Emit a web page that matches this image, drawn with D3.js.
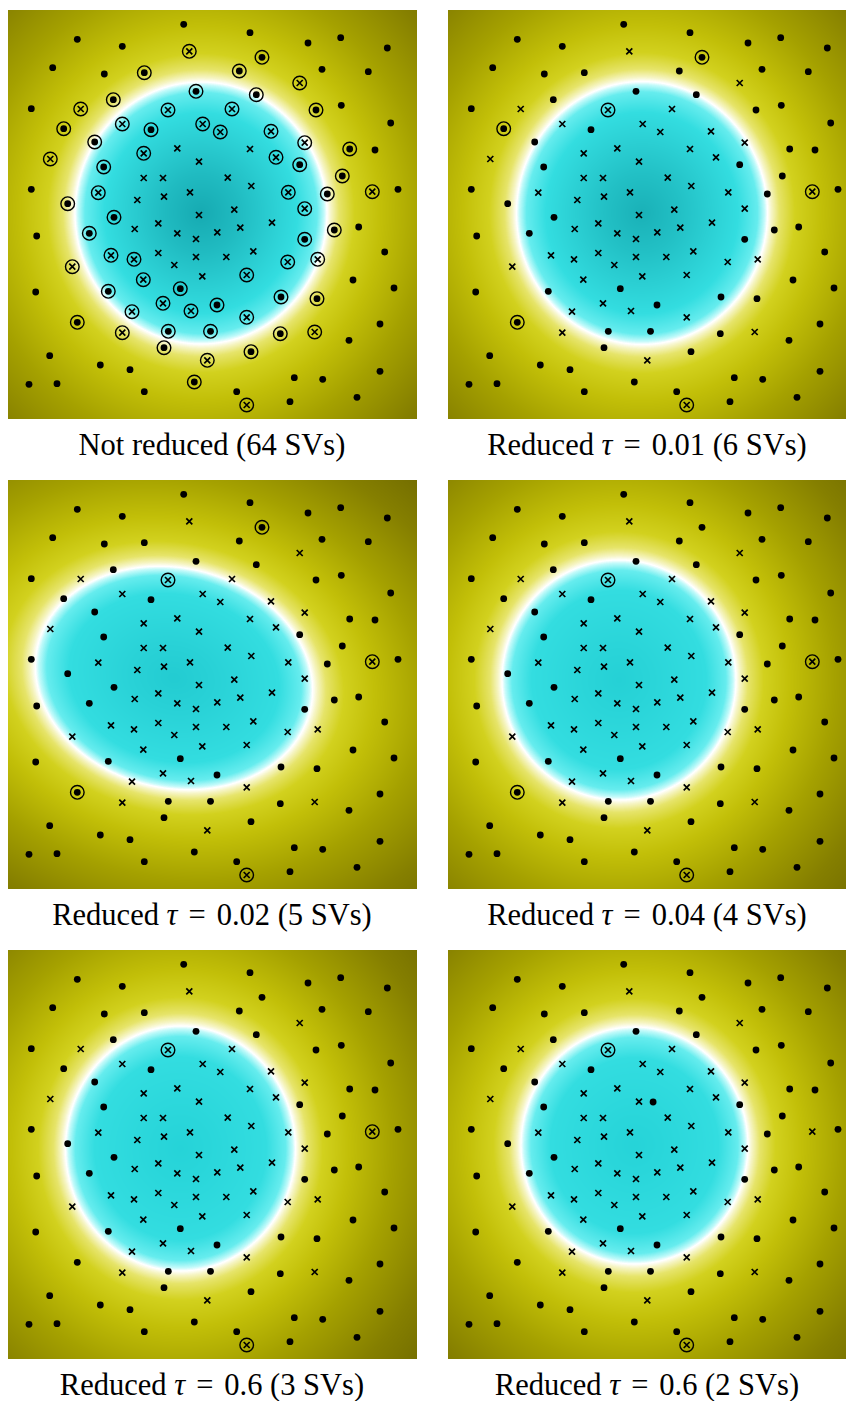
<!DOCTYPE html>
<html>
<head>
<meta charset="utf-8">
<script src="https://cdn.jsdelivr.net/npm/d3@7"></script>
<style>
  body { margin: 0; background: #fff; }
  svg { display: block; }
</style>
</head>
<body>
<script>
// Training samples: [x1, x2, label (+1 = dot, -1 = cross), support vector of the full model (1/0)]
// The first six rows are the vectors kept by the reduced models.
const samples = [
  [16.00, 10.00, -1, 1], [5.57, 11.87, 1, 1], [25.40, 4.73, 1, 1],
  [36.43, 18.17, -1, 1], [6.93, 31.23, 1, 1], [23.87, 39.50, -1, 1],
  [17.57, 1.43, 1, 0], [18.13, 4.13, -1, 1], [6.93, 2.93, 1, 0],
  [11.43, 3.63, 1, 0], [4.47, 5.77, 1, 0], [9.63, 6.40, 1, 0],
  [13.63, 6.27, 1, 1], [18.80, 8.13, 1, 1], [2.33, 9.87, 1, 0],
  [7.27, 9.90, -1, 1], [10.53, 8.97, 1, 1], [11.43, 11.40, -1, 1],
  [14.30, 11.97, 1, 1], [19.47, 11.40, -1, 1], [4.23, 14.90, -1, 1],
  [8.67, 13.20, 1, 1], [13.57, 14.33, -1, 1], [16.93, 13.83, -1, 0],
  [19.10, 15.17, -1, 0], [9.57, 15.70, 1, 1], [13.57, 16.80, -1, 0],
  [15.50, 16.80, -1, 0], [2.33, 17.93, 1, 0], [9.03, 18.27, -1, 1],
  [12.93, 19.00, -1, 0], [15.60, 18.67, -1, 0], [18.20, 18.23, -1, 0],
  [5.97, 19.37, 1, 1],
  [24.20, 2.27, 1, 0], [30.00, 3.30, 1, 0], [33.27, 2.77, 1, 0],
  [37.93, 3.80, 1, 0], [23.13, 6.10, 1, 1], [31.40, 5.93, 1, 0],
  [36.03, 6.17, 1, 0], [29.17, 7.30, -1, 1], [24.83, 8.47, 1, 1],
  [22.40, 9.90, -1, 1], [30.80, 10.00, 1, 1], [33.33, 9.53, 1, 0],
  [38.27, 11.30, 1, 0], [21.23, 12.20, -1, 1], [26.30, 12.13, -1, 1],
  [29.67, 13.27, -1, 1], [24.20, 13.90, -1, 0], [26.80, 14.73, -1, 1],
  [34.17, 13.90, 1, 1], [36.70, 14.00, 1, 0], [29.17, 15.47, 1, 1],
  [21.97, 16.77, -1, 0], [24.33, 17.60, -1, 0], [33.43, 16.60, 1, 1],
  [28.03, 18.23, -1, 1], [31.93, 18.40, 1, 1], [39.00, 17.93, 1, 0],
  [22.63, 19.97, -1, 0], [29.67, 19.87, -1, 1],
  [10.60, 20.73, 1, 1], [19.10, 20.50, -1, 0], [2.87, 22.60, 1, 0],
  [8.13, 22.33, 1, 1], [12.67, 21.90, -1, 0], [15.03, 21.33, -1, 0],
  [16.93, 22.33, -1, 0], [18.80, 22.90, -1, 0], [6.43, 25.67, -1, 1],
  [10.30, 24.53, -1, 1], [12.60, 24.93, -1, 1], [15.03, 24.30, -1, 0],
  [16.63, 25.50, -1, 0], [18.80, 24.70, -1, 0], [13.53, 26.97, -1, 1],
  [19.43, 26.63, -1, 0], [2.77, 28.20, 1, 0], [10.03, 28.13, 1, 1],
  [17.23, 27.87, 1, 1], [15.50, 29.33, -1, 1], [12.40, 30.17, -1, 1],
  [18.30, 30.10, -1, 1], [11.43, 32.27, -1, 1], [16.03, 32.13, 1, 1],
  [20.25, 32.13, 1, 1], [15.60, 33.77, 1, 1], [19.93, 35.03, -1, 1],
  [4.17, 34.57, 1, 0], [9.23, 35.50, 1, 0], [12.20, 35.97, 1, 0],
  [2.10, 37.43, 1, 0], [4.90, 37.37, 1, 0], [13.63, 38.17, 1, 0],
  [18.63, 37.20, 1, 1],
  [20.93, 22.23, -1, 0], [23.23, 21.77, -1, 0], [26.40, 21.27, -1, 0],
  [29.67, 22.93, 1, 1], [32.63, 22.00, 1, 1], [35.07, 21.70, 1, 0],
  [21.83, 24.70, -1, 0], [24.53, 24.13, -1, 0], [27.97, 25.20, -1, 1],
  [30.97, 24.93, -1, 1], [37.67, 24.20, 1, 0], [23.87, 26.50, -1, 1],
  [34.50, 27.00, 1, 0], [38.60, 27.80, 1, 0], [20.90, 29.50, 1, 1],
  [27.30, 28.70, 1, 1], [30.90, 28.87, 1, 1], [23.87, 30.73, -1, 1],
  [37.20, 31.40, 1, 0], [27.23, 32.37, 1, 1], [30.67, 32.20, -1, 1],
  [34.10, 33.03, 1, 0], [24.30, 34.17, 1, 1], [28.63, 36.77, 1, 0],
  [31.47, 36.93, 1, 0], [37.20, 36.13, 1, 0], [22.87, 38.17, 1, 0],
  [28.20, 39.17, 1, 0], [34.90, 38.73, 1, 0]
];

// One entry per model: reduction threshold (null = full model) and kept sample rows
const modelTau = [null, "0.01", "0.02", "0.04", "0.6", "0.6"];
const reducedSV = [null, [0, 1, 2, 3, 4, 5], [0, 2, 3, 4, 5], [0, 3, 4, 5], [0, 3, 5], [0, 5]];
// Additional points plotted only in a given panel: [x1, x2, label]
const extraPoints = [[], [], [], [], [], [[20.51, 15.20, 1]]];

// Zero level set of each decision function, as an ellipse (data units, angle in degrees)
const levelCx    = [19.30, 19.40, 16.60, 17.10, 17.25, 18.65];
const levelCy    = [20.30, 20.30, 19.80, 20.00, 19.85, 19.55];
const levelRx    = [12.60, 12.55, 14.00, 11.70, 11.50, 11.35];
const levelRy    = [13.10, 13.15, 11.00, 12.00, 12.25, 11.85];
const levelAngle = [0, 0, 13, 0, 0, 0];
const innerDeep  = ["#13a5ad", "#17acb3", "#20c9cf", "#22ced3", "#23d1d6", "#23d1d6"];

const W = 846, H = 1401, S = 409;
const colX = [8, 448], rowY = [10, 480, 950];

const svg = d3.select("body").append("svg").attr("width", W).attr("height", H);

const x = d3.scaleLinear().domain([0, 40.9]).range([0, S]);
const y = d3.scaleLinear().domain([0, 40.9]).range([0, S]);
const pxPerUnit = x(1) - x(0);

const outerColor = d3.scaleLinear()
  .domain([0, 4, 12, 28, 55, 100, 160, 240])
  .range(["#ffffff", "#f6f5c6", "#e6e46a", "#d2d11e", "#c2bf08", "#a5a100", "#857f00", "#666000"])
  .interpolate(d3.interpolateRgb).clamp(true);

function innerColor(deep) {
  return d3.scaleLinear()
    .domain([0, 3, 10, 30, 90, 140])
    .range(["#ffffff", "#c2fafa", "#66ecee", "#33dde0", d3.interpolateRgb("#33dde0", deep)(0.6), deep])
    .interpolate(d3.interpolateRgb).clamp(true);
}

function fieldImage(k) {
  const cv = document.createElement("canvas");
  cv.width = S; cv.height = S;
  const ctx = cv.getContext("2d");
  const img = ctx.createImageData(S, S);
  const th = levelAngle[k] * Math.PI / 180, c = Math.cos(th), s = Math.sin(th);
  const R = Math.sqrt(levelRx[k] * levelRy[k]) * pxPerUnit;
  // lookup tables over signed pixel distance from the boundary
  const step = 0.25;
  const lutOut = d3.range(0, 400, step).map(d => d3.rgb(outerColor(d)));
  const inner = innerColor(innerDeep[k]);
  const lutIn = d3.range(0, 400, step).map(d => d3.rgb(inner(d)));
  for (let j = 0; j < S; j++) {
    for (let i = 0; i < S; i++) {
      const dx = x.invert(i + 0.5) - levelCx[k];
      const dy = y.invert(j + 0.5) - levelCy[k];
      const u = dx * c + dy * s, v = -dx * s + dy * c;
      const r = Math.sqrt((u / levelRx[k]) ** 2 + (v / levelRy[k]) ** 2);
      const d = (r - 1) * R;
      const idx = Math.min(1599, Math.floor(Math.abs(d) / step));
      const col = d >= 0 ? lutOut[idx] : lutIn[idx];
      const o = (j * S + i) * 4;
      img.data[o] = col.r; img.data[o + 1] = col.g; img.data[o + 2] = col.b; img.data[o + 3] = 255;
    }
  }
  ctx.putImageData(img, 0, 0);
  return cv.toDataURL("image/png");
}

const crossPath = "M-3,-3L3,3M-3,3L3,-3";

modelTau.forEach((tau, k) => {
  const gx = colX[k % 2], gy = rowY[Math.floor(k / 2)];
  const g = svg.append("g").attr("transform", `translate(${gx},${gy})`);

  g.append("image")
    .attr("width", S).attr("height", S)
    .attr("href", fieldImage(k));

  const svRows = reducedSV[k] === null
    ? samples.filter(p => p[3] === 1)
    : reducedSV[k].map(i => samples[i]);
  const shown = samples.concat(extraPoints[k]);

  // support vector rings
  g.selectAll("circle.sv").data(svRows).join("circle")
    .attr("class", "sv")
    .attr("cx", d => x(d[0])).attr("cy", d => y(d[1]))
    .attr("r", 6.8)
    .attr("fill", "none").attr("stroke", "#000").attr("stroke-width", 1.4);

  g.selectAll("circle.pos").data(shown.filter(p => p[2] === 1)).join("circle")
    .attr("class", "pos")
    .attr("cx", d => x(d[0])).attr("cy", d => y(d[1]))
    .attr("r", 3.4).attr("fill", "#000");

  g.selectAll("path.neg").data(shown.filter(p => p[2] === -1)).join("path")
    .attr("class", "neg")
    .attr("transform", d => `translate(${x(d[0])},${y(d[1])})`)
    .attr("d", crossPath)
    .attr("fill", "none").attr("stroke", "#000").attr("stroke-width", 1.7);

  const cap = svg.append("text")
    .attr("x", k % 2 === 0 ? 212 : 647)
    .attr("y", gy + 445)
    .attr("text-anchor", "middle")
    .attr("font-family", "'Liberation Serif', 'Times New Roman', serif")
    .attr("font-size", 30.5)
    .attr("fill", "#000");

  if (tau === null) {
    cap.text(`Not reduced (${svRows.length} SVs)`);
  } else {
    cap.append("tspan").text("Reduced ");
    cap.append("tspan").attr("font-style", "italic").text("τ");
    cap.append("tspan").attr("dx", 11).text("=");
    cap.append("tspan").attr("dx", 11).text(`${tau} (${svRows.length} SVs)`);
  }
});
</script>
</body>
</html>
